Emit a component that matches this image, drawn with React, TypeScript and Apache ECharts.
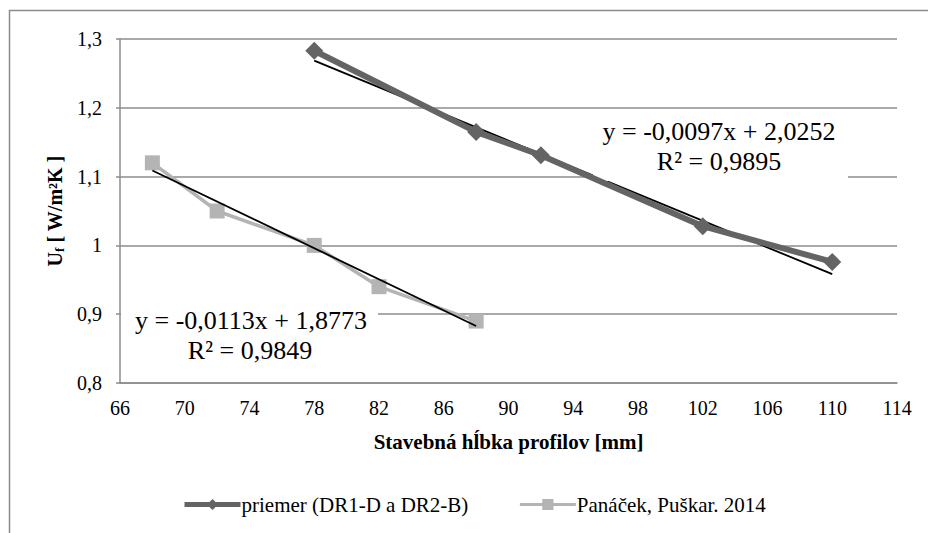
import React, { useEffect, useRef } from "react";
import * as echarts from "echarts";

const xTicks = [66, 114, 4];
const yRange = [0.8, 1.3, 0.1];

const seriesAName = "priemer (DR1-D a DR2-B)";
const seriesAX = [78, 88, 92, 102, 110];
const seriesAY = [1.283, 1.165, 1.131, 1.028, 0.976];

const seriesBName = "Panáček, Puškar. 2014";
const seriesBX = [68, 72, 78, 82, 88];
const seriesBY = [1.12, 1.05, 1.0, 0.94, 0.89];

// trendline coefficients (slope, intercept) as printed in the chart
const trendA = [-0.0097, 2.0252];
const trendB = [-0.0113, 1.8773];
const eqA = ["y = -0,0097x + 2,0252", "R² = 0,9895"];
const eqB = ["y = -0,0113x + 1,8773", "R² = 0,9849"];

const FONT = '"Liberation Serif", "Times New Roman", Times, serif';
const COL_A = "#646464";
const COL_B = "#b4b4b4";
const GRID_COL = "#8c8c8c";

function trendPoints(xs: number[], t: number[]) {
  const x0 = Math.min(...xs);
  const x1 = Math.max(...xs);
  return [
    [x0, t[0] * x0 + t[1]],
    [x1, t[0] * x1 + t[1]],
  ];
}

export default function App() {
  const ref = useRef<HTMLDivElement>(null);
  useEffect(() => {
    if (!ref.current) return;
    const chart = echarts.init(ref.current, undefined, { renderer: "svg" });
    const fmt = (v: number) => String(Math.round(v * 10) / 10).replace(".", ",");
    const eqText = (text: string, x: number, y: number) => ({
      type: "text",
      x,
      y,
      z: 4,
      style: { text, fontFamily: FONT, fontSize: 26, fill: "#000", align: "center", verticalAlign: "middle" },
    });
    chart.setOption({
      animation: false,
      backgroundColor: "#fff",
      textStyle: { fontFamily: FONT },
      grid: { left: 120, top: 39, right: 31, bottom: 150, containLabel: false },
      xAxis: {
        type: "value",
        min: xTicks[0],
        max: xTicks[1],
        interval: xTicks[2],
        name: "Stavebná hĺbka profilov [mm]",
        nameLocation: "middle",
        nameGap: 48,
        nameTextStyle: { fontFamily: FONT, fontSize: 21, fontWeight: "bold", color: "#000" },
        axisLine: { show: true, lineStyle: { color: GRID_COL, width: 1.5 } },
        axisTick: { show: false },
        splitLine: { show: false },
        axisLabel: { fontFamily: FONT, fontSize: 20, color: "#000", margin: 15 },
      },
      yAxis: {
        type: "value",
        min: yRange[0],
        max: yRange[1],
        interval: yRange[2],
        name: "{a|U}{s|f}{a| [ W/m²K ]}",
        nameLocation: "middle",
        nameGap: 54,
        nameRotate: 90,
        nameTextStyle: {
          fontFamily: FONT,
          fontSize: 20,
          fontWeight: "bold",
          color: "#000",
          rich: {
            a: { fontFamily: FONT, fontSize: 20, fontWeight: "bold", color: "#000" },
            s: { fontFamily: FONT, fontSize: 13, fontWeight: "bold", color: "#000", padding: [9, 0, 0, 0] },
          },
        },
        axisLine: { show: true, lineStyle: { color: GRID_COL, width: 1.5 } },
        axisTick: { show: true, length: 4, lineStyle: { color: GRID_COL, width: 1.5 } },
        splitLine: { show: true, lineStyle: { color: GRID_COL, width: 1.5 } },
        axisLabel: { fontFamily: FONT, fontSize: 20, color: "#000", margin: 18, formatter: fmt },
      },
      legend: {
        left: 177,
        top: 489,
        itemWidth: 56,
        itemHeight: 14,
        itemGap: 50,
        textStyle: { fontFamily: FONT, fontSize: 21, color: "#000", padding: [0, 0, 0, -4] },
        data: [
          { name: seriesAName, lineStyle: { color: COL_A, width: 5 }, itemStyle: { color: COL_A } },
          { name: seriesBName, lineStyle: { color: COL_B, width: 3 }, itemStyle: { color: COL_B } },
        ],
      },
      series: [
        {
          name: "trendA",
          type: "line",
          data: trendPoints(seriesAX, trendA),
          symbol: "none",
          lineStyle: { color: "#000", width: 1.8 },
          z: 2,
        },
        {
          name: "trendB",
          type: "line",
          data: trendPoints(seriesBX, trendB),
          symbol: "none",
          lineStyle: { color: "#000", width: 1.8 },
          z: 6,
        },
        {
          name: seriesAName,
          type: "line",
          data: seriesAX.map((x, i) => [x, seriesAY[i]]),
          symbol: "diamond",
          symbolSize: 18,
          lineStyle: { color: COL_A, width: 6 },
          itemStyle: { color: COL_A },
          z: 5,
        },
        {
          name: seriesBName,
          type: "line",
          data: seriesBX.map((x, i) => [x, seriesBY[i]]),
          symbol: "rect",
          symbolSize: 15,
          lineStyle: { color: COL_B, width: 3.5 },
          itemStyle: { color: COL_B },
          z: 5,
        },
      ],
      graphic: [
        {
          type: "rect",
          shape: { x: 9.5, y: 10.5, width: 1000, height: 1000 },
          style: { fill: "none", stroke: GRID_COL, lineWidth: 1.5 },
          silent: true,
        },
        {
          type: "rect",
          shape: { x: 593, y: 113, width: 255, height: 68 },
          style: { fill: "#fff" },
          z: 3,
        },
        eqText(eqA[0], 719, 131),
        eqText(eqA[1], 719, 161),
        {
          type: "rect",
          shape: { x: 121, y: 303, width: 257, height: 66 },
          style: { fill: "#fff" },
          z: 3,
        },
        eqText(eqB[0], 251, 320),
        eqText(eqB[1], 250, 350),
      ],
    });
    return () => chart.dispose();
  }, []);
  return <div ref={ref} style={{ width: 928, height: 533, position: "fixed", left: 0, top: 0 }} />;
}
